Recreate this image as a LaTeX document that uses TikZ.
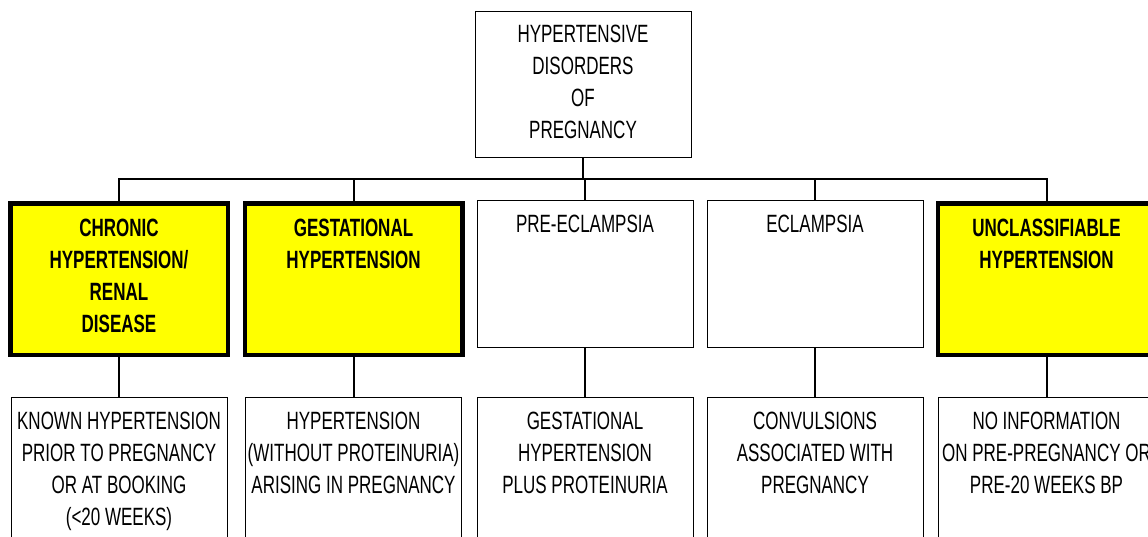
\documentclass[tikz,border=0pt]{standalone}
\usepackage{fontspec}
\setmainfont[FakeStretch=0.68]{Liberation Sans}
\definecolor{keyyellow}{RGB}{255,255,0}
\begin{document}
\begin{tikzpicture}[x=1pt,y=-1pt,
  box/.style={draw=black,line width=1pt,fill=white,minimum width=216pt,inner sep=0pt,anchor=north},
  keybox/.style={draw=black,line width=4.5pt,fill=keyyellow,inner sep=0pt,minimum width=217.5pt,minimum height=151.5pt,anchor=north},
  txt/.style={align=center,anchor=north,inner sep=0pt,font=\fontsize{25}{32}\selectfont},
  btxt/.style={txt,font=\fontsize{25}{32}\selectfont\bfseries},
  link/.style={line width=2pt,draw=black}]
\path[use as bounding box] (0,0) rectangle (1148,537);
\clip (0,0) rectangle (1148,537);
% top
\node[box,minimum height=146pt] (top) at (583,11) {};
\node[txt] (toptxt) at (583,25) {HYPERTENSIVE\\DISORDERS\\OF\\PREGNANCY};
% level 2
\node[keybox] (b1) at (119,201.25) {};
\node[keybox] (b2) at (353.5,201.25) {};
\node[box,minimum height=147pt] (b3) at (585,200) {};
\node[box,minimum height=147pt] (b4) at (815,200) {};
\node[keybox] (b5) at (1046.5,201.25) {};
\node[btxt] (t1) at (119,219) {CHRONIC\\HYPERTENSION/\\RENAL\\DISEASE};
\node[btxt] (t2) at (353.5,219) {GESTATIONAL\\HYPERTENSION};
\node[txt] (t3) at (585,215) {PRE-ECLAMPSIA};
\node[txt] (t4) at (815,215) {ECLAMPSIA};
\node[btxt] (t5) at (1046.5,219) {UNCLASSIFIABLE\\HYPERTENSION};
% level 3
\node[box,minimum height=200pt] (c1) at (119,397) {};
\node[box,minimum height=200pt] (c2) at (353.5,397) {};
\node[box,minimum height=200pt] (c3) at (585,397) {};
\node[box,minimum height=200pt] (c4) at (815,397) {};
\node[box,minimum height=200pt] (c5) at (1046.5,397) {};
\node[txt] (u1) at (119,412) {KNOWN HYPERTENSION\\PRIOR TO PREGNANCY\\OR AT BOOKING\\(<20 WEEKS)};
\node[txt] (u2) at (353.5,412) {HYPERTENSION\\(WITHOUT PROTEINURIA)\\ARISING IN PREGNANCY};
\node[txt] (u3) at (585,412) {GESTATIONAL\\HYPERTENSION\\PLUS PROTEINURIA};
\node[txt] (u4) at (815,412) {CONVULSIONS\\ASSOCIATED WITH\\PREGNANCY};
\node[txt] (u5) at (1046.5,412) {NO INFORMATION\\ON PRE-PREGNANCY OR\\PRE-20 WEEKS BP};
% connectors
\coordinate (bar) at (583,179);
\draw[link] (top.south) -- (top.south |- bar);
\draw[link] (b1.north) -- (b1.north |- bar) -- (b5.north |- bar) -- (b5.north);
\foreach \n in {b2,b3,b4} \draw[link] (\n.north) -- (\n.north |- bar);
\draw[link] (b1.south) -- (c1.north);
\draw[link] (b2.south) -- (c2.north);
\draw[link] (b3.south) -- (c3.north);
\draw[link] (b4.south) -- (c4.north);
\draw[link] (b5.south) -- (c5.north);
\end{tikzpicture}
\end{document}
